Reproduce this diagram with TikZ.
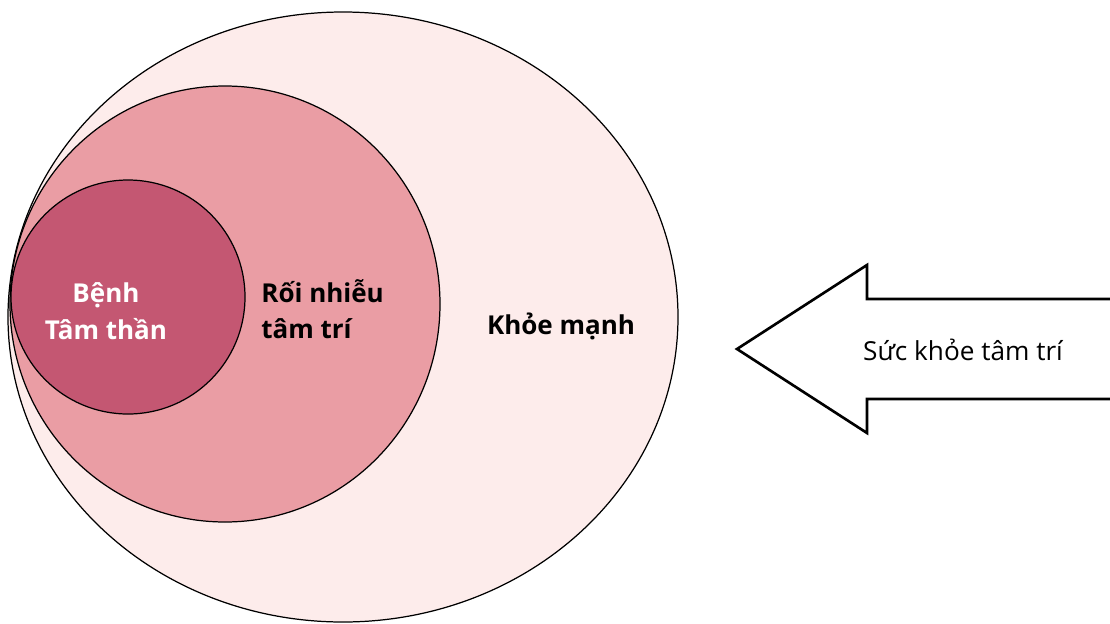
\documentclass[tikz,border=0pt]{standalone}
\usepackage{fontspec}
\setmainfont{Open Sans}
\definecolor{healthy}{HTML}{FDECEB}
\definecolor{disorder}{HTML}{EA9DA4}
\definecolor{illness}{HTML}{C45772}
\begin{document}
\begin{tikzpicture}[x=0.02cm,y=-0.02cm,
  zone/.style = {draw=black, line width=0.7pt},
  label/.style = {font=\bfseries\fontsize{14.8}{20.8}\selectfont, inner sep=0pt},
  arrowtext/.style = {font=\fontsize{14.9}{19}\selectfont, inner sep=0pt}]
\useasboundingbox (0,0) rectangle (1110,623);
\draw[zone, fill=healthy] (343,317) ellipse [x radius=335, y radius=305];
\draw[zone, fill=disorder] (225,304) ellipse [x radius=215, y radius=218];
\draw[zone, fill=illness] (128,297) circle [radius=117];
\node[label, text=white, align=center] (benh) at (106,311) {Bệnh\\Tâm thần};
\node[label, align=left, anchor=west] (roi) at (261,309) {Rối nhiễu\\tâm trí};
\node[label] (khoe) at (561,326) {Khỏe mạnh};
% big arrow
\draw[line width=1.5pt, line join=miter, fill=white]
  (1115,299) -- (867,299) -- (867,265) -- (737,349) -- (867,433) -- (867,399) -- (1115,399);
\node[arrowtext] (suckhoe) at (963,350) {Sức khỏe tâm trí};
\end{tikzpicture}
\end{document}
